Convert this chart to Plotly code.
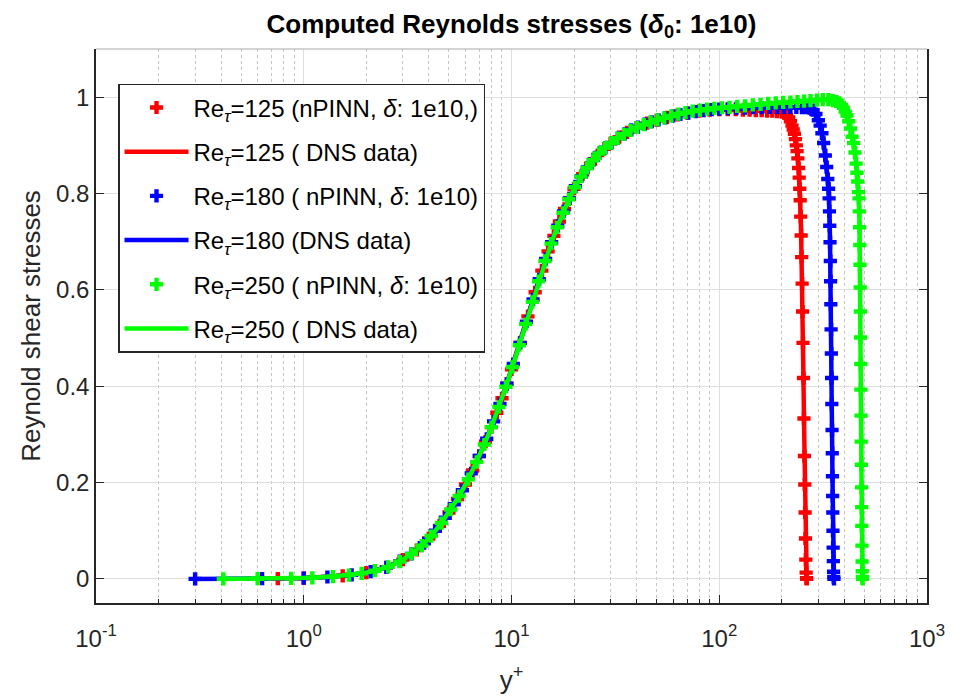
import plotly.graph_objects as go

FONT = "Liberation Sans, Arial, Helvetica, sans-serif"

# ---------------- data ----------------
re125_yplus = [
    0.75, 1.0, 1.54, 2.0, 2.5, 3.0, 3.5, 4.0, 4.5, 5.0,
    5.5, 6.0, 6.5, 7.0, 7.5, 8.0, 8.5, 9.0, 9.5, 10.0,
    11, 12, 13, 14, 15, 16, 17, 18, 19, 20,
    22, 24, 26, 28, 30, 33, 36, 40, 45, 50,
    56, 63, 70, 80, 90, 100, 110, 120, 130, 140,
    150, 160, 170, 180, 190, 200, 206, 211, 216, 220,
    224, 227, 230, 232.5, 235, 237, 239, 241, 242.6, 244,
    245.2, 246.6, 247.9, 249.3, 250.6, 251.8, 253, 254.3, 255.7, 257,
    258, 259, 260, 261, 262, 263, 263.7,
]
re125_stress = [
    0.0006, 0.0017, 0.0065, 0.013, 0.024, 0.040, 0.060, 0.084, 0.110, 0.138,
    0.166, 0.196, 0.225, 0.255, 0.285, 0.315, 0.345, 0.375, 0.405, 0.435,
    0.490, 0.545, 0.595, 0.640, 0.680, 0.712, 0.742, 0.768, 0.790, 0.810,
    0.840, 0.862, 0.880, 0.893, 0.904, 0.917, 0.927, 0.937, 0.946, 0.952,
    0.958, 0.963, 0.967, 0.971, 0.973, 0.974, 0.974, 0.974, 0.973, 0.973,
    0.972, 0.972, 0.971, 0.971, 0.970, 0.969, 0.967, 0.963, 0.958, 0.950,
    0.941, 0.933, 0.924, 0.913, 0.900, 0.888, 0.873, 0.853, 0.833, 0.810,
    0.786, 0.752, 0.713, 0.668, 0.613, 0.555, 0.490, 0.417, 0.333, 0.255,
    0.196, 0.138, 0.084, 0.040, 0.013, 0.0017, 0.000,
]

re180_yplus = [
    0.3, 0.63, 1.0, 1.3, 1.7, 2.1, 2.5, 2.9, 3.3, 3.8,
    4.3, 4.8, 5.3, 5.8, 6.4, 7.0, 7.6, 8.2, 8.8, 9.5,
    10.2, 11.0, 11.8, 12.7, 13.6, 14.6, 15.6, 16.7, 17.8, 19.0,
    20.3, 21.7, 23.2, 24.8, 26.5, 28.3, 30.3, 32.5, 35.0, 37.7,
    40.6, 43.8, 47.3, 51, 55, 60, 65, 71, 77, 84,
    92, 100,
    110, 121, 133, 146, 160, 175, 190, 205, 220, 235,
    250, 262, 272,
    283, 292, 300, 306, 312, 318, 324, 329, 333, 336,
    338.0, 339.2, 340.3, 341.4, 342.5, 343.5, 344.5, 345.5, 346.4, 347.3,
    348.2, 349.1, 349.9, 350.7, 351.4, 352.0, 352.7, 353.4, 354.1, 354.9,
    355.7, 356.6,
]
re180_stress = [
    0.0, 0.0004, 0.0017, 0.004, 0.0085, 0.015, 0.024, 0.037, 0.052, 0.074,
    0.100, 0.127, 0.155, 0.184, 0.219, 0.255, 0.291, 0.327, 0.363, 0.405,
    0.446, 0.490, 0.534, 0.580, 0.622, 0.664, 0.699, 0.733, 0.763, 0.790,
    0.815, 0.836, 0.854, 0.870, 0.884, 0.895, 0.905, 0.915, 0.924, 0.932,
    0.938, 0.944, 0.949, 0.953, 0.957, 0.961, 0.964, 0.967, 0.970, 0.972,
    0.974, 0.975,
    0.976, 0.977, 0.977, 0.978, 0.978, 0.979, 0.979, 0.979, 0.979, 0.979,
    0.978, 0.978, 0.977,
    0.973, 0.965, 0.952, 0.941, 0.925, 0.905, 0.879, 0.855, 0.830, 0.810,
    0.790, 0.763, 0.733, 0.699, 0.660, 0.618, 0.570, 0.518, 0.468, 0.417,
    0.363, 0.309, 0.261, 0.213, 0.172, 0.138, 0.100, 0.065, 0.037, 0.015,
    0.004, 0.0,
]

re250_yplus = [
    0.41, 0.6, 0.87, 1.1, 1.38, 1.65, 1.9, 2.2, 2.55, 2.9,
    3.3, 3.7, 4.1, 4.6, 5.1, 5.6, 6.2, 6.8, 7.4, 8.0,
    8.7, 9.4, 10.1, 10.9, 11.7, 12.6, 13.5, 14.5, 15.5, 16.6,
    17.7, 18.9, 20.2, 21.6, 23.1, 24.7, 26.4, 28.2, 30.2, 32.4,
    34.8, 37.4, 40.2, 43.3, 46.7, 50.4, 54.4, 58.8, 63.6, 68.8,
    74.5, 80.7, 87.4, 94.7,
    103, 112, 122, 133, 145, 158, 172, 187, 203, 220,
    238, 256, 275, 295, 315, 335, 352, 366,
    378, 388, 396, 404, 412, 420, 428, 436, 443, 450,
    456, 460, 464, 468,
    471.0, 472.2, 473.4, 474.6, 475.7, 476.8, 477.8, 478.8, 479.8, 480.7,
    481.6, 482.5, 483.3, 484.1, 484.8, 485.5, 486.3, 487.1, 487.85, 488.7,
    489.6,
]
re250_stress = [
    0.0, 0.0004, 0.0011, 0.0023, 0.0048, 0.0078, 0.0115, 0.017, 0.025, 0.036,
    0.052, 0.069, 0.089, 0.116, 0.144, 0.172, 0.207, 0.243, 0.279, 0.315,
    0.357, 0.399, 0.440, 0.485, 0.529, 0.575, 0.618, 0.660, 0.696, 0.730,
    0.760, 0.788, 0.813, 0.835, 0.853, 0.869, 0.883, 0.895, 0.905, 0.915,
    0.923, 0.931, 0.937, 0.943, 0.948, 0.953, 0.957, 0.961, 0.965, 0.968,
    0.971, 0.973, 0.975, 0.977,
    0.978, 0.979, 0.981, 0.982, 0.984, 0.985, 0.987, 0.988, 0.989, 0.990,
    0.991, 0.992, 0.993, 0.994, 0.995, 0.995, 0.993, 0.991,
    0.988, 0.984, 0.978, 0.970, 0.962, 0.950, 0.935, 0.918, 0.905, 0.885,
    0.862, 0.843, 0.825, 0.803,
    0.790, 0.763, 0.730, 0.693, 0.652, 0.605, 0.555, 0.501, 0.446, 0.393,
    0.339, 0.285, 0.237, 0.190, 0.149, 0.110, 0.069, 0.036, 0.016, 0.004,
    0.0,
]

nn_names = [
    "Re<sub><i>τ</i></sub>=125 (nPINN, <i>δ</i>: 1e10,)",
    "Re<sub><i>τ</i></sub>=180 ( nPINN, <i>δ</i>: 1e10)",
    "Re<sub><i>τ</i></sub>=250 ( nPINN, <i>δ</i>: 1e10)",
]
dns_names = [
    "Re<sub><i>τ</i></sub>=125 ( DNS data)",
    "Re<sub><i>τ</i></sub>=180 (DNS data)",
    "Re<sub><i>τ</i></sub>=250 ( DNS data)",
]
colors = ["#ff0000", "#0000ff", "#00ff00"]

x_tick_vals = [0.1, 1, 10, 100, 1000]
x_tick_text = ["10<sup>-1</sup>", "10<sup>0</sup>", "10<sup>1</sup>", "10<sup>2</sup>", "10<sup>3</sup>"]
y_tick_vals = [0, 0.2, 0.4, 0.6, 0.8, 1]
y_tick_text = ["0", "0.2", "0.4", "0.6", "0.8", "1"]

# ---------------- figure ----------------
series = [
    (re125_yplus, re125_stress),
    (re180_yplus, re180_stress),
    (re250_yplus, re250_stress),
]

fig = go.Figure()
for i, (xs, ys) in enumerate(series):
    fig.add_trace(go.Scatter(
        x=xs, y=ys, mode="markers", name=nn_names[i],
        marker=dict(symbol="cross", size=11, color=colors[i]),
        legendgroup="nn%d" % i,
    ))
    fig.add_trace(go.Scatter(
        x=xs, y=ys, mode="lines", name=dns_names[i],
        line=dict(color=colors[i], width=4.5),
        legendgroup="dns%d" % i,
    ))

axis_color = "#262626"
grid_color = "#dedede"

fig.update_layout(
    width=960, height=699,
    margin=dict(l=96, r=33, t=49, b=96, autoexpand=False),
    paper_bgcolor="white", plot_bgcolor="white",
    font=dict(family=FONT, size=24, color=axis_color),
    title=dict(
        text="<b>Computed Reynolds stresses (<i>δ</i><sub>0</sub>: 1e10)</b>",
        x=0.5, xref="paper", xanchor="center",
        y=1 - 23.5 / 699, yref="container", yanchor="middle",
        font=dict(family=FONT, size=26, color="black"),
    ),
    legend=dict(
        x=0.0265, y=0.937, xanchor="left", yanchor="top",
        bgcolor="white", bordercolor=axis_color, borderwidth=1.5,
        font=dict(family=FONT, size=24, color="black"),
        traceorder="grouped", tracegroupgap=10, itemwidth=64,
    ),
    shapes=[dict(type="line", xref="paper", yref="paper", x0=0, x1=1, y0=1, y1=1,
                 line=dict(color="#a8a8a8", width=1))],
)

fig.update_xaxes(
    type="log", range=[-1, 3], automargin=False,
    tickmode="array", tickvals=x_tick_vals, ticktext=x_tick_text,
    ticks="inside", ticklen=8, tickwidth=1.2, tickcolor=axis_color,
    ticklabelstandoff=13,
    showline=True, linecolor=axis_color, linewidth=1.5, mirror=False,
    showgrid=True, gridcolor=grid_color, gridwidth=1.3,
    zeroline=False,
    minor=dict(dtick="D1", ticks="inside", ticklen=4, tickcolor=axis_color, tickwidth=1,
               showgrid=True, gridcolor="#c4c4c4", griddash="dot", gridwidth=1),
    title=dict(text="y<sup>+</sup>", font=dict(family=FONT, size=26, color=axis_color), standoff=20),
)
fig.update_yaxes(
    range=[-0.05, 1.1], automargin=False,
    tickmode="array", tickvals=y_tick_vals, ticktext=y_tick_text,
    ticks="inside", ticklen=8, tickwidth=1.2, tickcolor=axis_color,
    showline=True, linecolor=axis_color, linewidth=1.5, mirror="ticks",
    showgrid=True, gridcolor=grid_color, gridwidth=1.3,
    zeroline=False,
    title=dict(text="Reynold shear stresses", font=dict(family=FONT, size=26, color=axis_color), standoff=8),
)

fig.write_html("out.html")
